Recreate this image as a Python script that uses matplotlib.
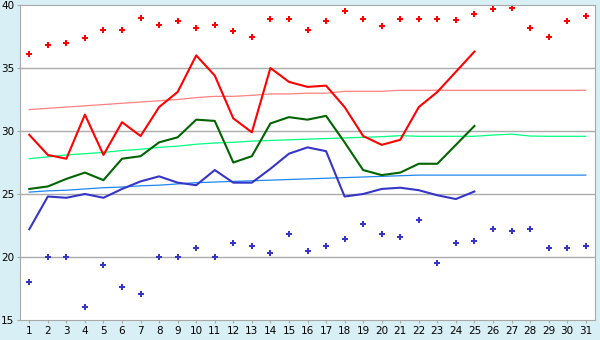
import matplotlib
matplotlib.use('Agg')
import matplotlib.pyplot as plt
import numpy as np
from matplotlib import rcParams
rcParams['font.family'] = 'DejaVu Sans'
rcParams['font.size'] = 7.5

days = np.arange(1, 32)

# record high / low for each day of the month
rec_max = [36.1, 36.8, 37.0, 37.4, 38.0, 38.0, 39.0, 38.4, 38.7, 38.2,
           38.4, 37.9, 37.5, 38.9, 38.9, 38.0, 38.7, 39.5, 38.9, 38.3,
           38.9, 38.9, 38.9, 38.8, 39.3, 39.7, 39.8, 38.2, 37.5, 38.7, 39.1]
rec_min = [18.0, 20.0, 20.0, 16.0, 19.4, 17.6, 17.1, 20.0, 20.0, 20.7,
           20.0, 21.1, 20.9, 20.3, 21.8, 20.5, 20.9, 21.4, 22.6, 21.8,
           21.6, 22.9, 19.5, 21.1, 21.3, 22.2, 22.1, 22.2, 20.7, 20.7, 20.9]

# normals
norm_max = [31.7, 31.8, 31.9, 32.0, 32.1, 32.2, 32.3, 32.4, 32.5, 32.65,
            32.75, 32.75, 32.83, 32.94, 32.94, 33.0, 33.0, 33.15, 33.15, 33.15,
            33.23, 33.23, 33.23, 33.23, 33.23, 33.23, 33.23, 33.23, 33.23, 33.23, 33.23]
norm_mean = [27.8, 27.95, 28.1, 28.2, 28.3, 28.45, 28.55, 28.7, 28.8, 28.95,
             29.05, 29.1, 29.2, 29.25, 29.3, 29.35, 29.4, 29.45, 29.5, 29.55,
             29.63, 29.58, 29.58, 29.58, 29.58, 29.68, 29.75, 29.6, 29.58, 29.58, 29.58]
norm_min = [25.15, 25.25, 25.3, 25.4, 25.5, 25.55, 25.65, 25.7, 25.8, 25.9,
            25.95, 26.0, 26.05, 26.1, 26.15, 26.2, 26.25, 26.3, 26.35, 26.4,
            26.45, 26.5, 26.5, 26.5, 26.5, 26.5, 26.5, 26.5, 26.5, 26.5, 26.5]

# observed this month (first 25 days)
t_max = [29.7, 28.1, 27.8, 31.3, 28.1, 30.7, 29.6, 31.9, 33.1, 36.0,
         34.4, 31.0, 29.9, 35.0, 33.9, 33.5, 33.6, 31.9, 29.6, 28.9,
         29.3, 31.9, 33.1, 34.7, 36.3]
t_mean = [25.4, 25.6, 26.2, 26.7, 26.1, 27.8, 28.0, 29.1, 29.5, 30.9,
          30.8, 27.5, 28.0, 30.6, 31.1, 30.9, 31.2, 29.1, 26.9, 26.5,
          26.7, 27.4, 27.4, 28.9, 30.4]
t_min = [22.2, 24.8, 24.7, 25.0, 24.7, 25.4, 26.0, 26.4, 25.9, 25.7,
         26.9, 25.9, 25.9, 27.0, 28.2, 28.7, 28.4, 24.8, 25.0, 25.4,
         25.5, 25.3, 24.9, 24.6, 25.2]
obs_days = days[:len(t_max)]

fig = plt.figure(figsize=(6, 3.4), dpi=100, facecolor='#d9eff6')
ax = fig.add_axes([20/600, 1-320/340, 575/600, 315/340])
ax.set_facecolor('white')

for y in [20, 25, 30, 35]:
    ax.axhline(y, color='#ababab', lw=1, zorder=0)

ax.plot(days, norm_max, color='#ff8080', lw=0.9)
ax.plot(days, norm_mean, color='#00ff80', lw=0.9)
ax.plot(days, norm_min, color='#1e88f0', lw=0.9)

ax.plot(obs_days, t_max, color='#ff0000', lw=1.5)
ax.plot(obs_days, t_mean, color='#006400', lw=1.5)
ax.plot(obs_days, t_min, color='#3535c8', lw=1.5)

ax.plot(days, rec_max, 'P', color='#ff0000', ms=4, mew=0)
ax.plot(days, rec_min, 'P', color='#3535c8', ms=4, mew=0)

ax.set_xlim(0.5, 31.5)
ax.set_ylim(15, 40)
ax.set_xticks(days)
ax.set_yticks([15, 20, 25, 30, 35, 40])
for s in ax.spines.values():
    s.set_color('#a8a8a8')
ax.tick_params(direction='out', length=2.5, color='#a8a8a8', pad=1.5, labelsize=7.5)

fig.savefig('out.png', dpi=100, facecolor=fig.get_facecolor())
